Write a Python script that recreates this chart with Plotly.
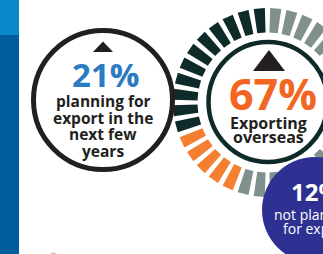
import numpy as np
import plotly.graph_objects as go

# ---- data ----
percent_labels = ["21%", "67%", "12%"]
left_caption = ["planning for", "export in the", "next few", "years"]
right_caption = ["Exporting", "overseas"]
purple_caption = ["not planning", "for export"]
ring_segment_names = ["exporting", "planning", "other"]
ring_tick_counts = [11, 5, 20]
ring_colors = ["#0e2b29", "#f47f31", "#80918d"]

W, H = 323, 254
fig = go.Figure()

# ring ticks (right dial)
cx, cy = 267.5, 102.5
r_in, r_out = 70, 94.5
n_total = sum(ring_tick_counts)
step = 360.0 / n_total
half = step * 0.34
idx = 0
for name, cnt, col in zip(ring_segment_names, ring_tick_counts, ring_colors):
    xs, ys = [], []
    for k in range(cnt):
        a = step / 2 + step * (idx + k)  # counter-clockwise from top
        th = np.radians(np.linspace(a - half, a + half, 6))
        ox = cx - r_out * np.sin(th); oy = cy - r_out * np.cos(th)
        ix = cx - r_in * np.sin(th[::-1]); iy = cy - r_in * np.cos(th[::-1])
        xs += list(ox) + list(ix) + [ox[0], None]
        ys += list(oy) + list(iy) + [oy[0], None]
    idx += cnt
    fig.add_trace(go.Scatter(x=xs, y=ys, mode="lines", fill="toself",
                             fillcolor=col, line=dict(width=0, color=col),
                             hoverinfo="skip", showlegend=False, name=name))

shapes = [
    dict(type="rect", x0=0, x1=19, y0=0, y1=35, fillcolor="#0a88cc", line_width=0, layer="below"),
    dict(type="rect", x0=0, x1=19, y0=35, y1=254, fillcolor="#015c9c", line_width=0, layer="below"),
    # left circle
    dict(type="circle", x0=103 - 69.5, x1=103 + 69.5, y0=100 - 69.5, y1=100 + 69.5,
         fillcolor="white", line=dict(color="#231f20", width=5)),
    dict(type="path", path="M 93 52 L 103 41.5 L 113 52 Z", fillcolor="#231f20", line_width=0),
    # right inner circle
    dict(type="circle", x0=268 - 59.5, x1=268 + 59.5, y0=102 - 60, y1=102 + 60,
         fillcolor="rgba(0,0,0,0)", line=dict(color="#0e2b29", width=4.5)),
    dict(type="path", path="M 253 71 L 269 50 L 285 71 Z", fillcolor="#231f20", line_width=0),
    # purple circle
    dict(type="circle", x0=315 - 53, x1=315 + 53, y0=210 - 53, y1=210 + 53,
         fillcolor="#2e3192", line_width=0),
    # small orange blob at bottom edge
    dict(type="circle", x0=49, x1=58, y0=252.5, y1=262, fillcolor="#f7b394", line_width=0),
]

FONT = "Open Sans"
ann = []
def add_text(t, x, y, size, color, bold=True):
    ann.append(dict(text=t, x=x, y=y, xref="x", yref="y", showarrow=False,
                    xanchor="center", yanchor="middle",
                    font=dict(family=FONT, size=size, color=color,
                              weight=700 if bold else 400)))

add_text(percent_labels[0], 105, 74, 33, "#2b7bc3")
for i, t in enumerate(left_caption):
    add_text(t, 103, 101 + 16.5 * i, 15.5, "#231f20")
add_text(percent_labels[1], 273, 93, 43, "#f26522")
add_text(right_caption[0], 268, 123, 16, "#231f20")
add_text(right_caption[1], 268, 137, 16, "#231f20")
add_text(percent_labels[2], 315, 191, 24, "white")
add_text(purple_caption[0], 315, 214, 14, "white", bold=False)
add_text(purple_caption[1], 315, 228, 14, "white", bold=False)

fig.update_layout(
    width=W, height=H, autosize=False,
    margin=dict(l=0, r=0, t=0, b=0),
    paper_bgcolor="white", plot_bgcolor="white",
    xaxis=dict(range=[0, W], visible=False, fixedrange=True),
    yaxis=dict(range=[H, 0], visible=False, fixedrange=True),
    shapes=shapes, annotations=ann, showlegend=False,
)
fig.write_html("out.html", config={"displayModeBar": False})
with open("out.html", "r", encoding="utf-8") as f:
    html = f.read()
html = html.replace("<head>", "<head><style>html,body{margin:0;padding:0;overflow:hidden;}</style>", 1)
with open("out.html", "w", encoding="utf-8") as f:
    f.write(html)
